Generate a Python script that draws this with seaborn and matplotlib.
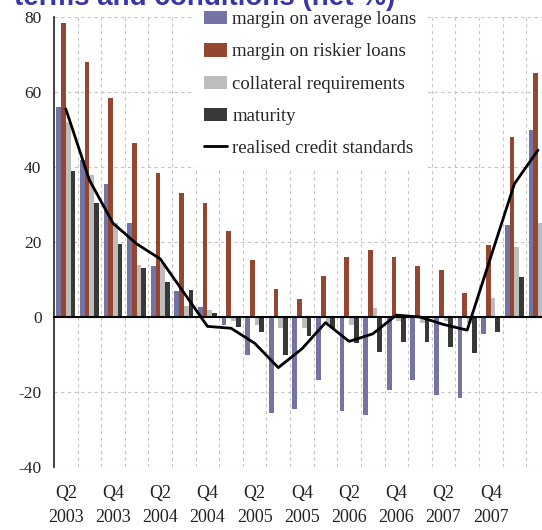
import numpy as np
import pandas as pd
import seaborn as sns
import matplotlib.pyplot as plt

# quarters from Q2 2003 to Q2 2008
quarters = ["Q2 2003", "Q3 2003", "Q4 2003", "Q1 2004", "Q2 2004", "Q3 2004", "Q4 2004",
            "Q1 2005", "Q2 2005", "Q3 2005", "Q4 2005", "Q1 2006", "Q2 2006", "Q3 2006",
            "Q4 2006", "Q1 2007", "Q2 2007", "Q3 2007", "Q4 2007", "Q1 2008", "Q2 2008"]

avg_loans = [56, 42, 35.5, 25, 13.5, 7, 2.8, -2, -10, -25.5, -24.5, -16.8, -25, -26,
             -19.5, -16.8, -20.8, -21.7, -4.4, 24.5, 50]
risky_loans = [78.5, 68, 58.5, 46.5, 38.5, 33, 30.5, 23, 15.2, 7.6, 4.8, 11, 16, 18,
               16, 13.5, 12.5, 6.5, 19.2, 48, 65]
collateral = [52, 38, 25, 14, 14.5, 3, 2, -1, -2, -3, -3, -1.5, -2, 2.5,
              -1, -1.5, -1, -1.5, 5, 18.7, 25]
maturity = [39, 30.5, 19.5, 13, 9.4, 7.2, 1.2, -2.6, -3.9, -10.1, -5, -3, -7, -9.2,
            -6.6, -6.6, -8, -9.7, -3.9, 10.7, 20]
credit_std = [55.5, 36.5, 25, 19.5, 15.5, 6.5, -2.5, -3, -7, -13.5, -8.5, -1.5, -6.5, -4.5,
              0.5, 0, -2, -3.5, 16, 35.5, 44.5]

series_names = ["margin on average loans", "margin on riskier loans",
                "collateral requirements", "maturity"]
colors = ["#6E6CA8", "#A33E1F", "#BDBDBD", "#363A3A"]

tick_labels = ["Q2\n2003", "Q4\n2003", "Q2\n2004", "Q4\n2004", "Q2\n2005",
               "Q4\n2005", "Q2\n2006", "Q4\n2006", "Q2\n2007", "Q4\n2007"]

df = pd.DataFrame({
    "quarter": quarters * 4,
    "series": np.repeat(series_names, len(quarters)),
    "value": avg_loans + risky_loans + collateral + maturity,
})

sns.set_theme(style="white")
plt.rcParams["font.family"] = ["Liberation Serif", "DejaVu Serif"]

fig = plt.figure(figsize=(5.42, 5.30), dpi=100)
ax = fig.add_axes([54 / 542, 63 / 530, 488 / 542, 450 / 530])

sns.barplot(data=df, x="quarter", y="value", hue="series", order=quarters,
            hue_order=series_names, palette=colors, width=0.8, errorbar=None,
            linewidth=0, ax=ax, zorder=2)
sns.lineplot(x=np.arange(len(quarters)), y=credit_std, color="black", lw=2,
             ax=ax, label="realised credit standards", zorder=3)

ax.set_xlim(-0.5, 20.17)
ax.set_ylim(-40, 80)
ax.set_yticks([-40, -20, 0, 20, 40, 60, 80])
ax.set_yticklabels(["-40", "-20", "0", "20", "40", "60", "80"], fontsize=12.5)
ax.set_xticks(np.arange(0.5, 20.5, 1))
ax.set_xticklabels([])
ax.set_xlabel("")
ax.set_ylabel("")

ax.grid(True, color="#C4C4C4", linestyle=(0, (3, 3)), linewidth=0.8, zorder=0)
ax.set_axisbelow(True)

for s in ["top", "right"]:
    ax.spines[s].set_visible(False)
ax.spines["left"].set_color("#333333")
ax.spines["left"].set_linewidth(1.3)
ax.spines["bottom"].set_position(("data", 0))
ax.spines["bottom"].set_color("black")
ax.spines["bottom"].set_linewidth(1.5)
ax.spines["bottom"].set_zorder(4)
ax.tick_params(axis="y", direction="out", length=5, width=1.2, color="#333333", pad=4)
ax.tick_params(axis="x", direction="out", length=4, width=1.2, color="black")

for i, lab in zip(range(0, 19, 2), tick_labels):
    ax.annotate(lab, xy=(i, 0), xycoords=("data", "axes fraction"),
                xytext=(0, -13), textcoords="offset points", ha="center", va="top",
                fontsize=13, linespacing=1.5, color="#222222")

# title, cut at the top edge as in the source picture
fig.text(395 / 542, 1 - 5 / 530, "terms and conditions (net %)", ha="right",
         va="baseline", fontsize=20, fontweight="bold", color="#3A36A6",
         family=["Liberation Sans", "DejaVu Sans"])

handles, labels = ax.get_legend_handles_labels()
leg = ax.legend(handles, labels, loc="upper left", bbox_to_anchor=(193 / 542, 1.0),
                bbox_transform=fig.transFigure, fontsize=13.5, frameon=True,
                facecolor="white", edgecolor="none", framealpha=1,
                handlelength=1.2, handleheight=0.7, handletextpad=0.3,
                labelspacing=0.8, borderpad=0.6, borderaxespad=0)
leg.set_zorder(5)

fig.savefig("out.png", dpi=100)
